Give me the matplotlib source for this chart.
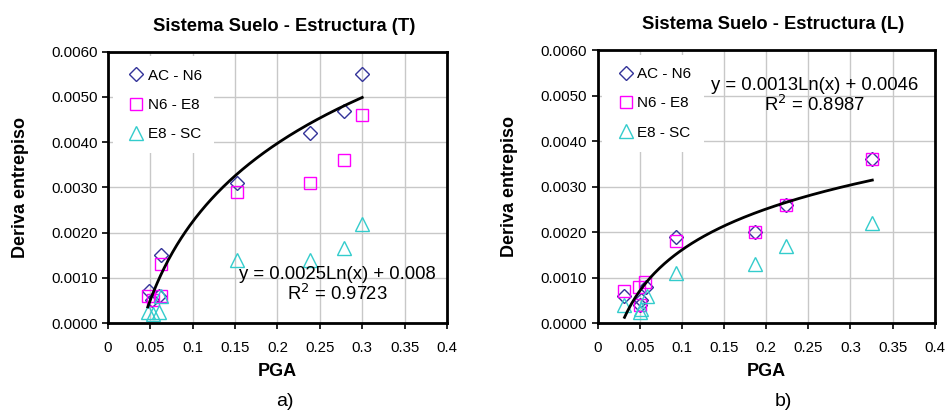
import numpy as np
import matplotlib.pyplot as plt

plt.rcParams['font.family'] = ['Liberation Sans', 'DejaVu Sans']

# Sistema suelo - estructura, direccion transversal (T)
pga_t = {
    'AC - N6': [0.048, 0.052, 0.060, 0.063, 0.152, 0.238, 0.278, 0.300],
    'N6 - E8': [0.047, 0.053, 0.062, 0.063, 0.152, 0.238, 0.278, 0.300],
    'E8 - SC': [0.047, 0.053, 0.060, 0.063, 0.152, 0.238, 0.278, 0.300],
}
deriva_t = {
    'AC - N6': [0.0007, 0.0005, 0.0006, 0.0015, 0.0031, 0.0042, 0.0047, 0.0055],
    'N6 - E8': [0.0006, 0.0005, 0.0006, 0.0013, 0.0029, 0.0031, 0.0036, 0.0046],
    'E8 - SC': [0.00025, 0.0002, 0.00025, 0.0006, 0.0014, 0.0014, 0.00165, 0.0022],
}
coef_t = (0.0025, 0.008)
r2_t = 0.9723
rango_t = (0.047, 0.300)

# Sistema suelo - estructura, direccion longitudinal (L)
pga_l = {
    'AC - N6': [0.031, 0.050, 0.052, 0.057, 0.093, 0.187, 0.224, 0.326],
    'N6 - E8': [0.031, 0.049, 0.050, 0.056, 0.093, 0.187, 0.224, 0.326],
    'E8 - SC': [0.031, 0.050, 0.052, 0.059, 0.093, 0.187, 0.224, 0.326],
}
deriva_l = {
    'AC - N6': [0.0006, 0.0004, 0.0005, 0.0008, 0.0019, 0.0020, 0.0026, 0.0036],
    'N6 - E8': [0.0007, 0.0008, 0.0004, 0.0009, 0.0018, 0.0020, 0.0026, 0.0036],
    'E8 - SC': [0.0004, 0.00025, 0.0003, 0.0006, 0.0011, 0.0013, 0.0017, 0.0022],
}
coef_l = (0.0013, 0.0046)
r2_l = 0.8987
rango_l = (0.032, 0.326)

estilos = {
    'AC - N6': dict(marker='D', color='#333399', ms=7),
    'N6 - E8': dict(marker='s', color='#FF00FF', ms=9),
    'E8 - SC': dict(marker='^', color='#33CCCC', ms=10),
}


def panel(ax, pga, deriva, coef, r2, rango, titulo, eq_pos):
    for serie, st in estilos.items():
        ax.plot(pga[serie], deriva[serie], linestyle='none', marker=st['marker'],
                markersize=st['ms'], markerfacecolor='none',
                markeredgecolor=st['color'], markeredgewidth=1.0, label=serie)
    xs = np.linspace(rango[0], rango[1], 200)
    ax.plot(xs, coef[0] * np.log(xs) + coef[1], color='black', lw=2)

    ax.set_xlim(0, 0.4)
    ax.set_ylim(0, 0.006)
    ax.set_xticks(np.arange(0, 0.41, 0.05))
    ax.set_xticklabels(['0', '0.05', '0.1', '0.15', '0.2', '0.25', '0.3', '0.35', '0.4'])
    ax.set_yticks(np.arange(0, 0.0061, 0.001))
    ax.set_yticklabels([f'{v:.4f}' for v in np.arange(0, 0.0061, 0.001)])
    ax.grid(True, color='#c8c8c8', lw=1)
    ax.set_axisbelow(True)
    for sp in ax.spines.values():
        sp.set_linewidth(2)
    ax.tick_params(direction='out', length=4, width=1.2, labelsize=10.8, colors='black')
    ax.tick_params(axis='x', pad=9)
    ax.set_title(titulo, fontsize=13.2, fontweight='bold', pad=15, x=0.52)
    ax.set_xlabel('PGA', fontsize=13, fontweight='bold', labelpad=6)
    ax.set_ylabel('Deriva entrepiso', fontsize=13, fontweight='bold', labelpad=16)

    eq = f'y = {coef[0]:g}Ln(x) + {coef[1]:g}\nR$^2$ = {r2:.4f}'
    ax.text(eq_pos[0], eq_pos[1], eq, ha='center', va='center', fontsize=13.3,
            linespacing=1.05)

    leg = ax.legend(loc='upper left', bbox_to_anchor=(0.0, 1.0), fontsize=11,
                    frameon=True, framealpha=1, edgecolor='none', fancybox=False,
                    handletextpad=0.0, labelspacing=1.0, borderpad=0.8,
                    handlelength=1.5, borderaxespad=0.3)
    leg.get_frame().set_linewidth(0)


fig = plt.figure(figsize=(9.47, 4.11), dpi=100)
ax1 = fig.add_axes([0.114, 0.214, 0.358, 0.660])
ax2 = fig.add_axes([0.631, 0.214, 0.356, 0.664])

panel(ax1, pga_t, deriva_t, coef_t, r2_t, rango_t,
      'Sistema Suelo - Estructura (T)', (0.271, 0.00085))
panel(ax2, pga_l, deriva_l, coef_l, r2_l, rango_l,
      'Sistema Suelo - Estructura (L)', (0.258, 0.0050))

fig.text(0.301, 0.012, 'a)', fontsize=14, ha='center')
fig.text(0.827, 0.012, 'b)', fontsize=14, ha='center')

fig.savefig('out.png', dpi=100)
